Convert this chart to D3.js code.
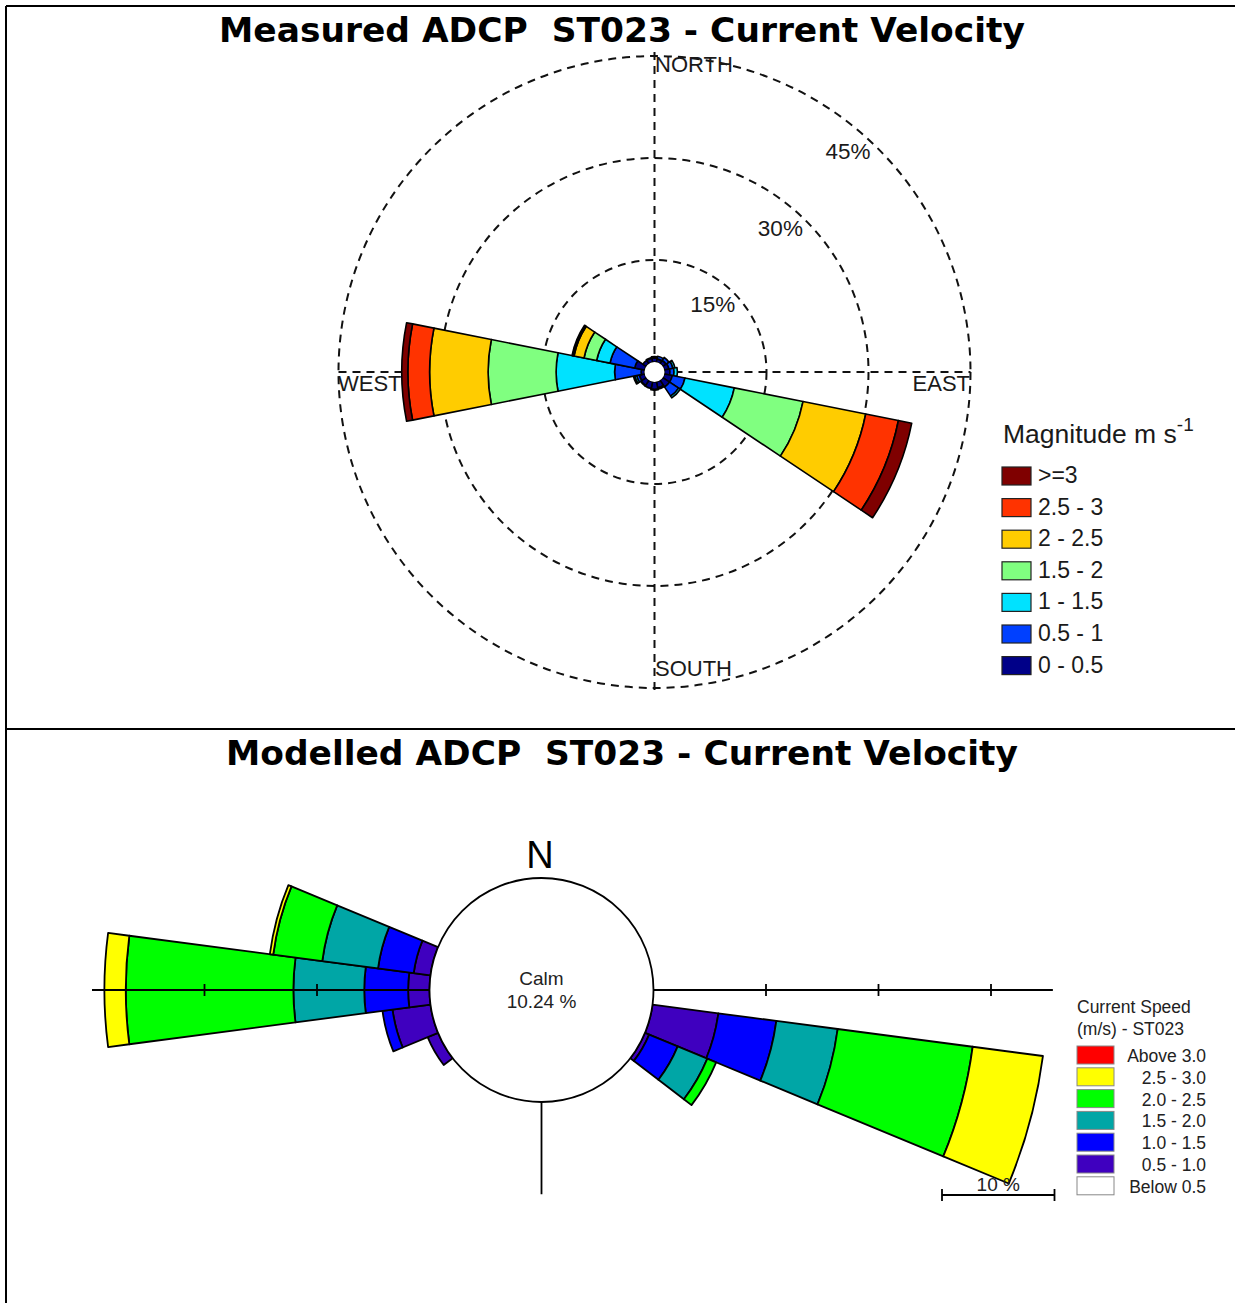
<!DOCTYPE html>
<html>
<head>
<meta charset="utf-8">
<script src="https://cdn.jsdelivr.net/npm/d3@7"></script>
<style>
  body { margin: 0; background: #fff; }
  svg { display: block; font-family: Arial, "Liberation Sans", sans-serif; }
  .title { font-family: "DejaVu Sans", Verdana, sans-serif; font-weight: bold; white-space: pre; }
</style>
</head>
<body>
<svg id="chart" width="1235" height="1303"></svg>
<script>
// ---- measured rose: 16 sectors (N, NNE ... NNW), % of records per speed bin ----
const measuredBins = ['0 - 0.5', '0.5 - 1', '1 - 1.5', '1.5 - 2', '2 - 2.5', '2.5 - 3', '>=3'];
const measuredColors = ['#000088', '#0040ff', '#00e2ff', '#80ff80', '#ffcc00', '#ff3300', '#7f0000'];
//                       N    NNE  NE   ENE  E    ESE   SE   SSE  S    SSW  SW   WSW  W    WNW  NW   NNW
const m0to05  = [0.6, 0.5, 0.6, 0.7, 0.8, 1.2,  1.2, 0.9, 1.1, 1.0, 0.9, 0.8, 0.5,  1.5, 0.6, 0.6];
const m05to1  = [0.2, 0.4, 0.5, 0.6, 0.6, 1.9,  1.6, 0.2, 0.1, 0,   0.1, 0.4, 3.9,  3.7, 0,   0.1];
const m1to15  = [0,   0,   0,   0.3, 0.5, 7.4,  0.3, 0,   0,   0,   0,   0.3, 8.6,  2.0, 0,   0];
const m15to2  = [0,   0,   0,   0,   0,   10.3, 0,   0,   0,   0,   0,   0.2, 10.0, 1.9, 0,   0];
const m2to25  = [0,   0,   0,   0,   0,   9.4,  0,   0,   0,   0,   0,   0,   8.6,  1.5, 0,   0];
const m25to3  = [0,   0,   0,   0,   0,   4.9,  0,   0,   0,   0,   0,   0,   3.2,  0.2, 0,   0];
const mAbove3 = [0,   0,   0,   0,   0,   2.0,  0,   0,   0,   0,   0,   0,   0.9,  0.1, 0,   0];
const measuredRings = [15, 30, 45];

// ---- modelled rose: 24 sectors of 15 deg, % per speed bin ----
const modelledBins = ['Above 3.0', '2.5 - 3.0', '2.0 - 2.5', '1.5 - 2.0', '1.0 - 1.5', '0.5 - 1.0', 'Below 0.5'];
const modelledColors = ['#ff0000', '#ffff00', '#00ff00', '#00a6a6', '#0000ff', '#3f00bf', '#ffffff'];
//                0  15 30 45 60 75 90 105   120   135 150 165 180 195 210 225 240  255  270   285  300 315 330 345
const p05to1  = [0, 0, 0, 0, 0, 0, 0, 5.9,  0.4,  0, 0, 0, 0, 0, 0, 0, 1.0, 3.4, 1.9,  1.5, 0, 0, 0, 0];
const p1to15  = [0, 0, 0, 0, 0, 0, 0, 5.2,  2.75, 0, 0, 0, 0, 0, 0, 0, 0,   0.9, 3.9,  3.2, 0, 0, 0, 0];
const p15to2  = [0, 0, 0, 0, 0, 0, 0, 5.5,  2.85, 0, 0, 0, 0, 0, 0, 0, 0,   0,   6.3,  5.0, 0, 0, 0, 0];
const p2to25  = [0, 0, 0, 0, 0, 0, 0, 12.1, 0.85, 0, 0, 0, 0, 0, 0, 0, 0,   0,   14.9, 4.4, 0, 0, 0, 0];
const p25to3  = [0, 0, 0, 0, 0, 0, 0, 6.3,  0,    0, 0, 0, 0, 0, 0, 0, 0,   0,   1.9,  0.3, 0, 0, 0, 0];
const pAbove3 = [0, 0, 0, 0, 0, 0, 0, 0,    0,    0, 0, 0, 0, 0, 0, 0, 0,   0,   0,    0,   0, 0, 0, 0];
const calmPct = 10.24;
const modelledTicks = [10, 20, 30];

const svg = d3.select('#chart');
const rad = d => d * Math.PI / 180;

// frame lines
svg.append('g').attr('stroke', '#000').attr('stroke-width', 2)
  .selectAll('line')
  .data([[6, 6, 6, 1303], [6, 6, 1235, 6], [6, 729, 1235, 729]])
  .enter().append('line')
  .attr('x1', d => d[0]).attr('y1', d => d[1]).attr('x2', d => d[2]).attr('y2', d => d[3]);

// titles, fitted to the reference width
function title(text, y, width) {
  const t = svg.append('text').attr('class', 'title')
    .attr('x', 622).attr('y', y).attr('text-anchor', 'middle')
    .attr('font-size', 32).text(text);
  const w = t.node().getComputedTextLength();
  t.attr('font-size', 32 * width / w);
}
title('Measured ADCP  ST023 - Current Velocity', 42, 806);
title('Modelled ADCP  ST023 - Current Velocity', 765, 792);

// stack the bins of a rose into arc segments
function segments(series, step) {
  const out = [];
  series[0].forEach((_, i) => {
    let cum = 0;
    series.forEach((s, b) => {
      if (s[i] > 0) out.push({ dir: i * step, bin: b, r0: cum, r1: cum + s[i] });
      cum += s[i];
    });
  });
  return out;
}

// =================== measured rose ===================
const c1 = { x: 654.5, y: 372 };
const r1 = d3.scaleLinear().domain([0, 45]).range([10, 316]);
const g1 = svg.append('g').attr('transform', `translate(${c1.x},${c1.y})`);

g1.selectAll('.ring')
  .data(measuredRings)
  .enter().append('circle')
  .attr('r', d => r1(d))
  .attr('fill', 'none').attr('stroke', '#111').attr('stroke-width', 2)
  .attr('stroke-dasharray', '8,6');

g1.append('g').attr('stroke', '#111').attr('stroke-width', 2).attr('stroke-dasharray', '8,6')
  .selectAll('line')
  .data([[0, -320, 0, 318], [-316, 0, 316, 0]])
  .enter().append('line')
  .attr('x1', d => d[0]).attr('y1', d => d[1]).attr('x2', d => d[2]).attr('y2', d => d[3]);

const arc1 = d3.arc()
  .innerRadius(d => r1(d.r0))
  .outerRadius(d => r1(d.r1))
  .startAngle(d => rad(d.dir - 11.25))
  .endAngle(d => rad(d.dir + 11.25));

g1.selectAll('.petal')
  .data(segments([m0to05, m05to1, m1to15, m15to2, m2to25, m25to3, mAbove3], 22.5))
  .enter().append('path')
  .attr('d', arc1)
  .attr('fill', d => measuredColors[d.bin])
  .attr('stroke', '#000').attr('stroke-width', 1.6).attr('stroke-linejoin', 'round');

g1.append('circle').attr('r', r1(0)).attr('fill', '#fff');

// compass and ring labels
const lab1 = svg.append('g').attr('font-size', 22).attr('fill', '#1a1a1a');
lab1.append('text').attr('x', 655).attr('y', 72).text('NORTH');
lab1.append('text').attr('x', 655).attr('y', 676).text('SOUTH');
lab1.append('text').attr('x', 338).attr('y', 391).text('WEST');
lab1.append('text').attr('x', 970).attr('y', 391).attr('text-anchor', 'end').text('EAST');
lab1.selectAll('.pct')
  .data(measuredRings)
  .enter().append('text')
  .attr('x', d => c1.x + (r1(d) - 24) * Math.sin(rad(41.5)))
  .attr('y', d => c1.y - (r1(d) - 24) * Math.cos(rad(41.5)))
  .attr('text-anchor', 'middle').attr('dominant-baseline', 'middle')
  .attr('font-size', 22.5)
  .text(d => d + '%');

// legend
const leg1 = svg.append('g').attr('transform', 'translate(1002,467)');
const t1 = leg1.append('text').attr('x', 1).attr('y', -24).attr('font-size', 26.5).attr('fill', '#1a1a1a');
t1.append('tspan').text('Magnitude m s');
t1.append('tspan').attr('dy', -12).attr('font-size', 19).text('-1');
const legRows1 = leg1.selectAll('.row')
  .data(measuredBins.slice().reverse())
  .enter().append('g')
  .attr('transform', (d, i) => `translate(0,${i * 31.6})`);
legRows1.append('rect')
  .attr('width', 29).attr('height', 18)
  .attr('fill', (d, i) => measuredColors[6 - i])
  .attr('stroke', '#222').attr('stroke-width', 1.2);
legRows1.append('text')
  .attr('x', 36).attr('y', 16).attr('font-size', 23).attr('fill', '#1a1a1a')
  .text(d => d);

// =================== modelled rose ===================
const c2 = { x: 541.5, y: 990 };
const calmR = 112;
const r2 = d3.scaleLinear().domain([0, 10]).range([calmR, calmR + 112.5]);
const g2 = svg.append('g').attr('transform', `translate(${c2.x},${c2.y})`);

const arc2 = d3.arc()
  .innerRadius(d => r2(d.r0))
  .outerRadius(d => r2(d.r1))
  .startAngle(d => rad(d.dir - 7.5))
  .endAngle(d => rad(d.dir + 7.5));

// bins inner->outer: 0.5-1.0 ... above 3.0
g2.selectAll('.petal')
  .data(segments([p05to1, p1to15, p15to2, p2to25, p25to3, pAbove3], 15))
  .enter().append('path')
  .attr('d', arc2)
  .attr('fill', d => modelledColors[5 - d.bin])
  .attr('stroke', '#000').attr('stroke-width', 1.8).attr('stroke-linejoin', 'round');

// axes with 10 % ticks
const ax = g2.append('g').attr('stroke', '#000').attr('stroke-width', 1.8);
ax.append('line').attr('x1', r2(0)).attr('x2', r2(35.5));
ax.append('line').attr('x1', -r2(0)).attr('x2', -r2(30));
ax.append('line').attr('y1', r2(0)).attr('y2', r2(8.2));
ax.selectAll('.tickE')
  .data(modelledTicks)
  .enter().append('line')
  .attr('x1', d => r2(d)).attr('x2', d => r2(d)).attr('y1', -6).attr('y2', 6);
ax.selectAll('.tickW')
  .data(modelledTicks.slice(0, 2))
  .enter().append('line')
  .attr('x1', d => -r2(d)).attr('x2', d => -r2(d)).attr('y1', -6).attr('y2', 6);

g2.append('circle').attr('r', calmR)
  .attr('fill', '#fff').attr('stroke', '#000').attr('stroke-width', 1.8);
g2.append('text').attr('y', -5).attr('text-anchor', 'middle').attr('font-size', 19).attr('fill', '#222').text('Calm');
g2.append('text').attr('y', 18).attr('text-anchor', 'middle').attr('font-size', 19).attr('fill', '#222')
  .text(calmPct.toFixed(2) + ' %');
g2.append('text').attr('x', -1.5).attr('y', -122).attr('text-anchor', 'middle').attr('font-size', 38).text('N');

// scale bar
const bar = svg.append('g').attr('transform', 'translate(942,1195)').attr('stroke', '#000').attr('stroke-width', 1.8);
const barLen = r2(10) - r2(0);
bar.append('line').attr('x2', barLen);
bar.append('line').attr('y1', -6).attr('y2', 6);
bar.append('line').attr('x1', barLen).attr('x2', barLen).attr('y1', -6).attr('y2', 6);
svg.append('text').attr('x', 942 + barLen / 2).attr('y', 1191).attr('text-anchor', 'middle')
  .attr('font-size', 19).attr('fill', '#222').text('10 %');

// legend
const leg2 = svg.append('g').attr('transform', 'translate(1077,1046)').attr('fill', '#222');
leg2.append('text').attr('y', -33).attr('font-size', 17.5).text('Current Speed');
leg2.append('text').attr('y', -11).attr('font-size', 17.5).text('(m/s) - ST023');
const legRows2 = leg2.selectAll('.row')
  .data(modelledBins)
  .enter().append('g')
  .attr('transform', (d, i) => `translate(0,${i * 21.8})`);
legRows2.append('rect')
  .attr('width', 37).attr('height', 18)
  .attr('fill', (d, i) => modelledColors[i])
  .attr('stroke', '#888').attr('stroke-width', 1);
legRows2.append('text')
  .attr('x', 129).attr('y', 16).attr('text-anchor', 'end').attr('font-size', 17.5)
  .text(d => d);
</script>
</body>
</html>
